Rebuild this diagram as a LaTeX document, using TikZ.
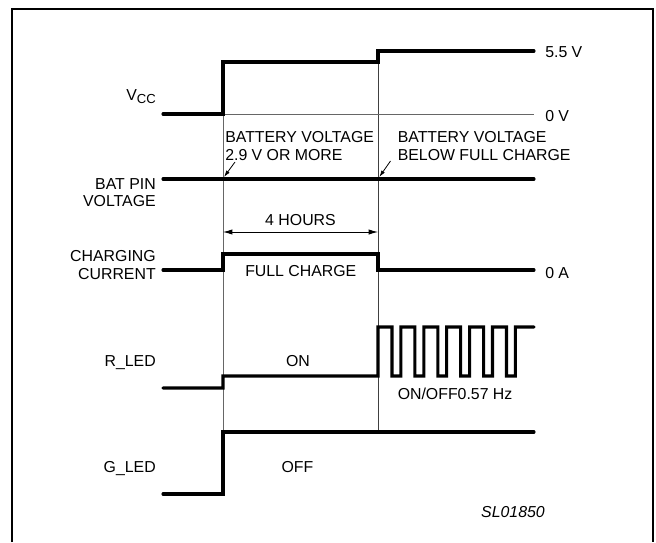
\documentclass[tikz,border=0pt]{standalone}
\usepackage{fontspec}
\setmainfont{Liberation Sans}
\usepackage{tikz}
\usetikzlibrary{positioning}
\usetikzlibrary{arrows.meta}

\begin{document}
\begin{tikzpicture}[x=0.75pt, y=-0.75pt, font=\fontsize{11.9}{13.5}\selectfont,
  sig/.style={line width=2.3pt, line cap=round},
  guide/.style={line width=0.7pt, black!75},
  txt/.style={inner sep=0pt, anchor=base},
  lbl/.style={inner sep=0pt, anchor=base east},
  lvl/.style={inner sep=0pt, anchor=base west}]
\useasboundingbox (0,0) rectangle (656,542);
% -- frame --
\draw[line width=1.5pt] (12,542) -- (12,9) -- (653,9) -- (653,542);
% -- guides --
\coordinate (t1top) at (223,114);
\coordinate (t1bot) at (223,432);
\coordinate (t2top) at (378,62);
\coordinate (t2bot) at (378,432);
\draw[guide, black!60] (t1top) -- (t1bot);
\draw[guide] (t2top) -- (t2bot);
\draw[guide, black!60] (t1top) -- (534,114);
% -- Vcc --
\draw[sig] (163,114) -- (223,114) -- (223,62) -- (378,62) -- (378,51) -- (534,51);
% -- BAT pin --
\draw[sig] (163,179) -- (534,179);
% -- charging current --
\draw[sig] (163,270) -- (223,270) -- (223,254) -- (378,254) -- (378,270) -- (534,270);
% -- R_LED --
\draw[sig] (163,388) -- (223,388) -- (223,376) -- (378,376)
  foreach \k in {0,...,5} { -- ({378+22.9*\k},327) -- ({392+22.9*\k},327)
    -- ({392+22.9*\k},376) -- ({400.9+22.9*\k},376) }
  -- (515.4,327) -- (534,327);
% -- G_LED --
\draw[sig] (163,494) -- (223,494) -- (223,432) -- (534,432);
% -- 4 hours --
\coordinate (h1) at (223,232);
\coordinate (h2) at (378,232);
\draw[line width=0.6pt, {Latex[length=7pt,width=4pt]}-{Latex[length=7pt,width=4pt]}] (h1) -- (h2);
\node[txt] (hours) at (300.5,225) {4 HOURS};
% -- battery notes --
\node[inner sep=0pt, anchor=base west] (bv1a) at (225,142) {BATTERY VOLTAGE};
\node[inner sep=0pt, anchor=base west] (bv1b) at (225,160) {2.9 V OR MORE};
\node[inner sep=0pt, anchor=base west] (bv2a) at (397.5,142) {BATTERY VOLTAGE};
\node[inner sep=0pt, anchor=base west] (bv2b) at (397.5,160) {BELOW FULL CHARGE};
\coordinate (a1) at (235,162);
\coordinate (a2) at (390.5,161);
\coordinate (p1) at (224,177);
\coordinate (p2) at (379.3,177);
\draw[line width=0.6pt, -{Latex[length=5pt,width=3pt]}] (a1) -- (p1);
\draw[line width=0.6pt, -{Latex[length=5pt,width=3pt]}] (a2) -- (p2);
% -- signal names --
\node[lbl] (vcc) at (156,100.5) {V\raisebox{-0.35ex}{\fontsize{9.8}{11}\selectfont CC}};
\node[lbl] (bat1) at (156,189) {BAT PIN};
\node[lbl] (bat2) at (156,206) {VOLTAGE};
\node[lbl] (cur1) at (156,261) {CHARGING};
\node[lbl] (cur2) at (156,279) {CURRENT};
\node[lbl] (rled) at (156,366) {R\_LED};
\node[lbl] (gled) at (156,472) {G\_LED};
% -- levels --
\node[lvl] (v55) at (545,57.5) {5.5 V};
\node[lvl] (v0) at (545,121.5) {0 V};
\node[lvl] (a0) at (545,278) {0 A};
% -- states --
\node[txt] (full) at (300.8,276) {FULL CHARGE};
\node[txt] (on) at (298,366) {ON};
\node[inner sep=0pt, anchor=base west] (blink) at (397.5,399) {ON/OFF0.57 Hz};
\node[txt] (off) at (297.5,472) {OFF};
\node[inner sep=0pt, anchor=base east] (code) at (545,517) {\itshape SL01850};
\end{tikzpicture}
\end{document}
